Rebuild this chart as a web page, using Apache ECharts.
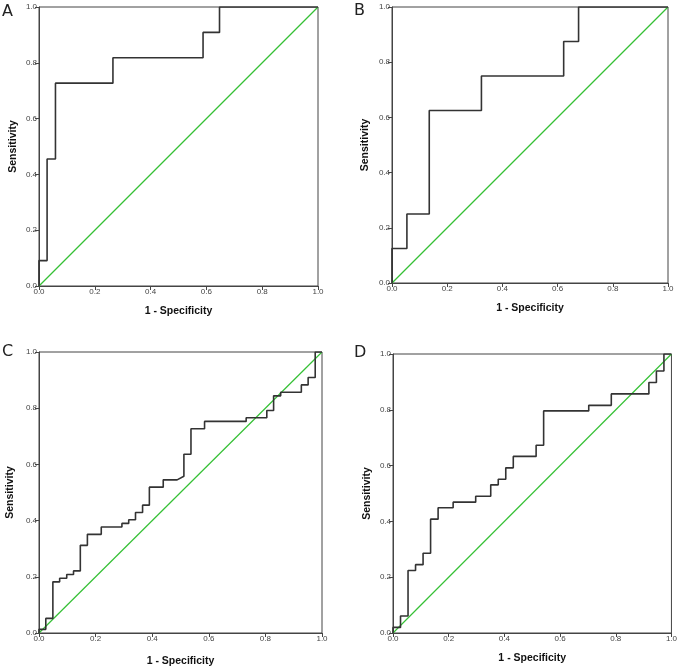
<!DOCTYPE html>
<html>
<head>
<meta charset="utf-8">
<script src="https://cdn.jsdelivr.net/npm/echarts@6/dist/echarts.min.js"></script>
<style>
html,body{margin:0;padding:0;background:#fff;}
#chart{width:680px;height:670px;}
</style>
</head>
<body>
<div id="chart"></div>
<script>
// ROC curve vertices (1 - Specificity, Sensitivity)
var panelLetters = ['A', 'B', 'C', 'D'];
var tickLabels = ['0.0', '0.2', '0.4', '0.6', '0.8', '1.0'];
var xTitle = '1 - Specificity';
var yTitle = 'Sensitivity';

var fprA = [0, 0, 0.029, 0.029, 0.059, 0.059, 0.265, 0.265, 0.588, 0.588, 0.647, 0.647, 1];
var tprA = [0, 0.091, 0.091, 0.455, 0.455, 0.727, 0.727, 0.818, 0.818, 0.909, 0.909, 1, 1];

var fprB = [0, 0, 0.054, 0.054, 0.135, 0.135, 0.324, 0.324, 0.622, 0.622, 0.676, 0.676, 1];
var tprB = [0, 0.125, 0.125, 0.25, 0.25, 0.625, 0.625, 0.75, 0.75, 0.875, 0.875, 1, 1];

var fprC = [0, 0, 0.024, 0.024, 0.049, 0.049, 0.073, 0.073, 0.098, 0.098, 0.122, 0.122,
            0.146, 0.146, 0.171, 0.171, 0.220, 0.220, 0.293, 0.293, 0.317, 0.317, 0.341, 0.341,
            0.366, 0.366, 0.390, 0.390, 0.439, 0.439, 0.488, 0.512, 0.512, 0.537, 0.537,
            0.585, 0.585, 0.732, 0.732, 0.805, 0.805, 0.829, 0.829, 0.854, 0.854,
            0.927, 0.927, 0.951, 0.951, 0.976, 0.976, 1];
var tprC = [0, 0.013, 0.013, 0.052, 0.052, 0.182, 0.182, 0.195, 0.195, 0.208, 0.208, 0.221,
            0.221, 0.312, 0.312, 0.351, 0.351, 0.377, 0.377, 0.390, 0.390, 0.403, 0.403, 0.429,
            0.429, 0.455, 0.455, 0.519, 0.519, 0.545, 0.545, 0.558, 0.636, 0.636, 0.727,
            0.727, 0.753, 0.753, 0.766, 0.766, 0.792, 0.792, 0.844, 0.844, 0.857,
            0.857, 0.883, 0.883, 0.909, 0.909, 1, 1];

var fprD = [0, 0, 0.027, 0.027, 0.054, 0.054, 0.081, 0.081, 0.108, 0.108, 0.135, 0.135,
            0.162, 0.162, 0.216, 0.216, 0.297, 0.297, 0.351, 0.351, 0.378, 0.378, 0.405, 0.405,
            0.432, 0.432, 0.514, 0.514, 0.541, 0.541, 0.703, 0.703, 0.784, 0.784,
            0.919, 0.919, 0.946, 0.946, 0.973, 0.973, 1];
var tprD = [0, 0.020, 0.020, 0.061, 0.061, 0.224, 0.224, 0.245, 0.245, 0.286, 0.286, 0.408,
            0.408, 0.449, 0.449, 0.469, 0.469, 0.490, 0.490, 0.531, 0.531, 0.551, 0.551, 0.592,
            0.592, 0.633, 0.633, 0.673, 0.673, 0.796, 0.796, 0.816, 0.816, 0.857,
            0.857, 0.898, 0.898, 0.939, 0.939, 1, 1];

var refX = [0, 1];
var refY = [0, 1];

var curves = [[fprA, tprA], [fprB, tprB], [fprC, tprC], [fprD, tprD]];

// layout
var grids = [
  {left: 39, top: 7, width: 279, height: 279},
  {left: 392, top: 7, width: 276, height: 276},
  {left: 39, top: 352, width: 283, height: 281},
  {left: 393, top: 354, width: 281, height: 279}
];
var xNameGaps = [20, 20, 23, 20];
var yNameGaps = [20, 21, 23, 20];
var letterPos = [[2, 4], [354, 3], [2, 344], [354, 345]];

function pairs(xs, ys) {
  var out = [];
  for (var i = 0; i < xs.length; i++) out.push([xs[i], ys[i]]);
  return out;
}

var frame = '#444';
var green = '#35c035';
var xAxes = [], yAxes = [], series = [], titles = [];
grids.forEach(function (g, i) {
  g.show = true; g.borderColor = frame; g.borderWidth = 1; g.backgroundColor = '#fff';
  g.containLabel = false;
  var common = {
    gridIndex: i, type: 'value', min: 0, max: 1, interval: 0.2,
    axisLine: {show: true, lineStyle: {color: frame, width: 1}},
    axisTick: {show: true, inside: false, length: 4, lineStyle: {color: frame}},
    splitLine: {show: false},
    axisLabel: {
      color: '#444', fontSize: 8, fontFamily: 'Liberation Sans', margin: 2,
      formatter: function (v) { return tickLabels[Math.round(v / 0.2)]; }
    },
    nameLocation: 'middle',
    nameTextStyle: {color: '#111', fontSize: 10.5, fontWeight: 'bold', fontFamily: 'Liberation Sans'}
  };
  xAxes.push(Object.assign({}, common, {name: xTitle, nameGap: xNameGaps[i]}));
  yAxes.push(Object.assign({}, common, {name: yTitle, nameGap: yNameGaps[i], nameRotate: 90}));
  series.push({
    name: 'ref' + i, type: 'line', xAxisIndex: i, yAxisIndex: i, data: pairs(refX, refY),
    showSymbol: false, symbol: 'none', silent: true, color: green,
    itemStyle: {color: green}, lineStyle: {color: green, width: 1.2},
    emphasis: {disabled: true}, z: 2
  });
  series.push({
    name: 'roc' + i, type: 'line', xAxisIndex: i, yAxisIndex: i, data: pairs(curves[i][0], curves[i][1]),
    showSymbol: false, symbol: 'none', silent: true, color: '#333',
    itemStyle: {color: '#333'}, lineStyle: {color: '#333', width: 1.6},
    emphasis: {disabled: true}, z: 3
  });
  titles.push({
    text: panelLetters[i], left: letterPos[i][0], top: letterPos[i][1], padding: 0,
    textStyle: {fontSize: 16, fontWeight: 'normal', color: '#222', fontFamily: 'DejaVu Sans'}
  });
});

var chart = echarts.init(document.getElementById('chart'), null, {renderer: 'canvas'});
chart.setOption({
  animation: false,
  backgroundColor: '#fff',
  title: titles,
  grid: grids,
  xAxis: xAxes,
  yAxis: yAxes,
  series: series
});
</script>
</body>
</html>
